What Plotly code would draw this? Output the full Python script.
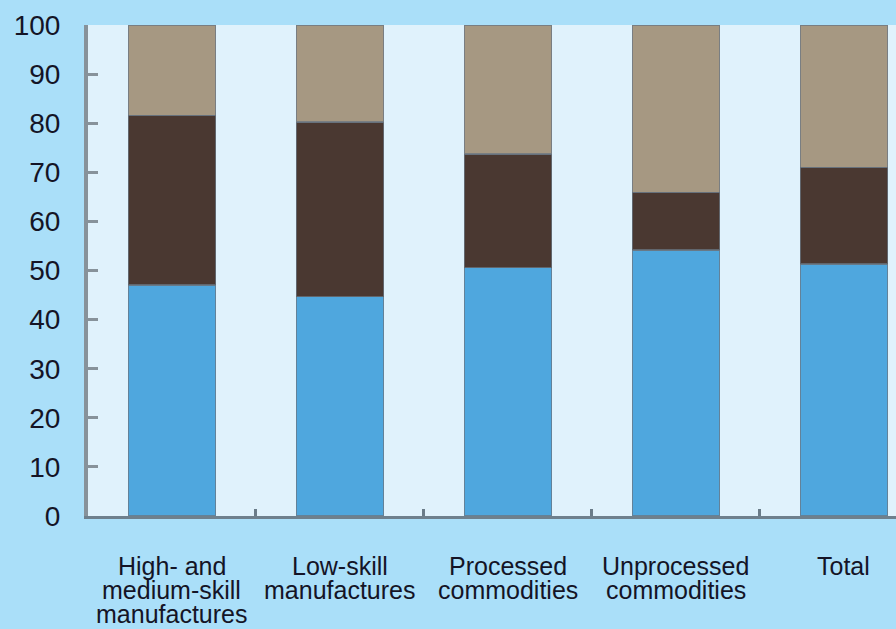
import plotly.graph_objects as go

categories = ["High- and medium-skill manufactures", "Low-skill manufactures",
              "Processed commodities", "Unprocessed commodities", "Total"]
label_lines = [["High- and", "medium-skill", "manufactures"],
               ["Low-skill", "manufactures"],
               ["Processed", "commodities"],
               ["Unprocessed", "commodities"],
               ["Total"]]
share_blue = [47.0, 44.7, 50.6, 54.2, 51.3]
share_dark = [34.6, 35.5, 23.1, 11.7, 19.7]
share_tan = [18.4, 19.8, 26.3, 34.1, 29.0]
y_ticks = [0, 10, 20, 30, 40, 50, 60, 70, 80, 90, 100]

FONT = "Liberation Sans"
line_col = "rgba(105,118,130,0.75)"

fig = go.Figure()
for vals, col in [(share_blue, "#4fa7de"), (share_dark, "#4a3831"), (share_tan, "#a69882")]:
    fig.add_trace(go.Bar(x=categories, y=vals, marker=dict(color=col, line=dict(color=line_col, width=1.5)),
                         width=0.52, showlegend=False, hoverinfo="skip"))

for cat, lines in zip(categories, label_lines):
    for i, ln in enumerate(lines):
        fig.add_annotation(x=cat, xref="x", y=0, yref="paper", text=ln, showarrow=False,
                           yanchor="middle", yshift=-50 - 24 * i,
                           font=dict(family=FONT, size=25, color="#141426"))

fig.update_layout(
    barmode="stack",
    width=896, height=629,
    margin=dict(l=88, r=0, t=25, b=113),
    paper_bgcolor="#aadff9",
    plot_bgcolor="#e0f2fc",
    bargap=0.48,
    font=dict(family=FONT, color="#141426"),
)
fig.update_xaxes(range=[-0.5, 4.31], showticklabels=False, tickson="boundaries",
                 ticks="inside", ticklen=7, tickwidth=3, tickcolor="#6a7c89",
                 showline=True, linecolor="#6e808d", linewidth=3, showgrid=False, zeroline=False)
fig.update_yaxes(range=[0, 100], tickvals=y_ticks, ticks="inside", ticklen=10, tickwidth=3,
                 tickcolor="#87929a", showline=True, linecolor="#87929a", linewidth=4,
                 showgrid=False, zeroline=False, ticklabelstandoff=18,
                 tickfont=dict(family=FONT, size=28, color="#141426"))

fig.write_html("out.html", config={"displayModeBar": False},
               post_script="document.body.style.margin='0';document.body.style.background='#aadff9';")
